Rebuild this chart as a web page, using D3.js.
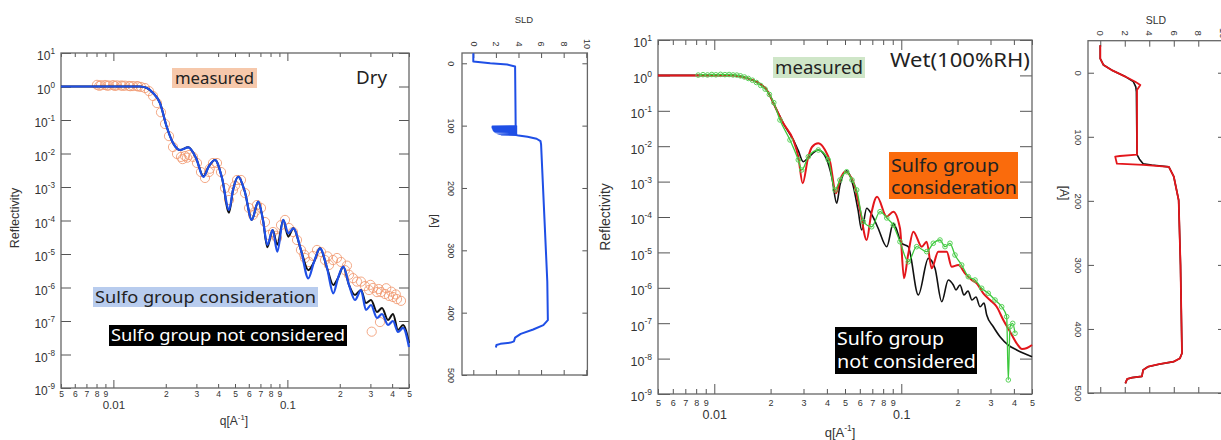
<!DOCTYPE html>
<html>
<head>
<meta charset="utf-8">
<script src="https://cdn.jsdelivr.net/npm/d3@7/dist/d3.min.js"></script>
<style>
  body { margin: 0; background: #fff; }
  svg { display: block; }
</style>
</head>
<body>
<div id="chart"></div>
<script>
const W = 1221, H = 440;

// ---- ticks ----
const qMinorTicks = [0.005, 0.006, 0.007, 0.008, 0.009, 0.02, 0.03, 0.04, 0.05, 0.06, 0.07, 0.08, 0.09, 0.2, 0.3, 0.4, 0.5];
const qMajorTicks = [0.01, 0.1];
const rTicks = [1e1, 1e0, 1e-1, 1e-2, 1e-3, 1e-4, 1e-5, 1e-6, 1e-7, 1e-8, 1e-9];
const sldTicks = [0, 2, 4, 6, 8, 10];
const depthTicks = [0, 100, 200, 300, 400, 500];

// ---- Dry reflectivity ----
const dryMeasQ = [0.00805, 0.00849, 0.00895, 0.00943, 0.00995, 0.01049, 0.01106, 0.01166, 0.01229, 0.01296, 0.01367, 0.01441, 0.0152, 0.01602, 0.0169, 0.01781, 0.01878, 0.0198, 0.02088, 0.02201, 0.02321, 0.02447, 0.0258, 0.0272, 0.02868, 0.03024, 0.03188, 0.03361, 0.03545, 0.03737, 0.0394, 0.04155, 0.0438, 0.0462, 0.0487, 0.05135, 0.05414, 0.05707, 0.0602, 0.06346, 0.0669, 0.07054, 0.07437, 0.0784, 0.0827, 0.0872, 0.0919, 0.0969, 0.1022, 0.1077, 0.1136, 0.1197, 0.1262, 0.1331, 0.1403, 0.148, 0.156, 0.1645, 0.1735, 0.1829, 0.1928, 0.2033, 0.2144, 0.226, 0.2383, 0.2512, 0.2649, 0.2793, 0.2945, 0.3105, 0.3274, 0.3452, 0.364, 0.3838, 0.4046, 0.4265, 0.4498,
  0.0083, 0.0092, 0.0102, 0.0113, 0.0125, 0.0139, 0.025, 0.0265, 0.0358, 0.05, 0.065, 0.086, 0.125, 0.17, 0.22, 0.3, 0.335, 0.37, 0.396, 0.42, 0.3052, 0.3405];
const dryMeasR = [1.12, 1.09, 1.11, 1.07, 1.10, 1.08, 1.07, 1.06, 1.04, 1.03, 1.03, 0.97, 0.90, 0.73, 0.52, 0.32, 0.17, 0.076, 0.033, 0.0156, 0.0097, 0.0079, 0.0084, 0.009, 0.0079, 0.0052, 0.0028, 0.00186, 0.0028, 0.0052, 0.0052, 0.0028, 9.3e-4, 4.1e-4, 8.1e-4, 1.62e-3, 1.62e-3, 6.6e-4, 2.36e-4, 1.46e-4, 2.9e-4, 2.36e-4, 9.0e-5, 3.69e-5, 4.54e-5, 3.0e-5, 7.3e-5, 1.04e-4, 5.97e-5, 4.54e-5, 2.62e-5, 1.32e-5, 7.6e-6, 5.77e-6, 8.7e-6, 1.32e-5, 1.15e-5, 6.6e-6, 4.7e-6, 6.6e-6, 7.6e-6, 5.8e-6, 3.3e-6, 2.4e-6, 1.9e-6, 1.5e-6, 1.5e-6, 1.1e-6, 8.4e-7, 9.7e-7, 7.3e-7, 7.3e-7, 6.4e-7, 5.6e-7, 5.2e-7, 4.5e-7, 4.0e-7,
  1.05, 1.06, 1.04, 1.05, 1.02, 1.0, 0.0068, 0.0075, 0.0035, 0.0011, 1.8e-4, 3.5e-5, 9.5e-6, 8.5e-6, 4.5e-6, 1.2e-6, 9.0e-7, 9.5e-7, 7.5e-7, 6.2e-7, 4.8e-8, 9.3e-8];

const dryConsQ = [0.005, 0.01422, 0.0156, 0.0169, 0.01853, 0.02025, 0.0221, 0.02415, 0.02695, 0.02985, 0.0329, 0.03545, 0.03837, 0.0421, 0.0462, 0.0487, 0.0522, 0.057, 0.0624, 0.068, 0.0724, 0.0767, 0.0823, 0.0875, 0.0947, 0.1012, 0.1082, 0.1197, 0.1319, 0.1422, 0.154, 0.169, 0.1836, 0.1954, 0.2097, 0.226, 0.2448, 0.2649, 0.283, 0.3024, 0.3274, 0.3498, 0.3787, 0.4045, 0.4323, 0.462, 0.5];
const dryConsR = [1, 1, 0.9, 0.64, 0.32, 0.063, 0.02, 0.0127, 0.0153, 0.00734, 0.002, 0.00424, 0.0064, 0.00186, 2.06e-4, 8.1e-4, 2.03e-3, 7.1e-4, 1.04e-4, 3.64e-4, 1.04e-4, 1.86e-5, 5.2e-5, 1.17e-5, 1.04e-4, 4.15e-5, 5.85e-5, 1.31e-5, 1.88e-6, 5.77e-6, 1.48e-5, 3.82e-6, 6.7e-7, 1.92e-6, 4.18e-6, 1.19e-6, 4.24e-7, 8.4e-7, 2.13e-7, 3.0e-7, 1.23e-7, 1.62e-7, 7.6e-8, 1.0e-7, 4.7e-8, 6.2e-8, 1.67e-8];

const dryNotQ = dryConsQ;
const dryNotR = [1, 1, 0.9, 0.64, 0.32, 0.063, 0.02, 0.0127, 0.0153, 0.00734, 0.0021, 0.00424, 0.0064, 0.00186, 1.7e-4, 8.1e-4, 2.03e-3, 7.1e-4, 1.04e-4, 3.64e-4, 1.04e-4, 1.6e-5, 5.2e-5, 1.9e-5, 1.04e-4, 3.3e-5, 5.85e-5, 1.31e-5, 3.3e-6, 5.77e-6, 1.48e-5, 3.82e-6, 1.19e-6, 1.92e-6, 4.18e-6, 1.19e-6, 6.0e-7, 8.4e-7, 3.44e-7, 4.24e-7, 1.86e-7, 2.44e-7, 1.07e-7, 1.62e-7, 5.4e-8, 7.6e-8, 2.2e-8];

// ---- Wet (100%RH) reflectivity ----
const wetMeasQ = [0.0082, 0.0087, 0.0092, 0.0097, 0.0102, 0.0108, 0.0114, 0.012, 0.0126, 0.0132, 0.0138, 0.0145, 0.0152, 0.016, 0.0168, 0.0177, 0.0187, 0.0197, 0.0208, 0.02245, 0.0254, 0.02813, 0.02934, 0.03183, 0.036, 0.04071, 0.0442, 0.047, 0.05105, 0.0545, 0.05773, 0.06266, 0.06945, 0.07695, 0.0836, 0.0906, 0.0984, 0.109, 0.1208, 0.1367, 0.1483, 0.161, 0.1713, 0.1821, 0.1937, 0.2104, 0.2282, 0.2479, 0.2691, 0.2919, 0.3171, 0.3443, 0.366, 0.3735, 0.3815, 0.3943, 0.4056];
const wetMeasR = [1.02, 1.05, 1.03, 1.06, 1.04, 1.07, 1.05, 1.06, 1.03, 1.02, 0.97, 0.9, 0.82, 0.73, 0.63, 0.52, 0.41, 0.29, 0.17, 0.055, 0.015, 0.0041, 0.00213, 0.00505, 0.0078, 0.0041, 5.8e-4, 1.11e-3, 1.9e-3, 1.11e-3, 5.8e-4, 7.4e-5, 5.3e-5, 1.41e-4, 9.4e-5, 5.9e-5, 2.0e-5, 5.45e-6, 1.45e-5, 1.05e-5, 1.81e-5, 2.24e-5, 1.45e-5, 1.81e-5, 8.45e-6, 4.4e-6, 2.06e-6, 1.66e-6, 9.7e-7, 7.0e-7, 4.52e-7, 2.92e-7, 1.53e-7, 2.5e-9, 8.0e-8, 9.9e-8, 5.2e-8];

const wetConsQ = [0.005, 0.01259, 0.0149, 0.01686, 0.01907, 0.02157, 0.02339, 0.02645, 0.02813, 0.0297, 0.0317, 0.0333, 0.036, 0.0391, 0.0416, 0.04475, 0.047, 0.05, 0.0554, 0.06015, 0.0653, 0.0689, 0.0742, 0.0836, 0.0906, 0.0984, 0.1034, 0.1087, 0.116, 0.1286, 0.1367, 0.1454, 0.1577, 0.175, 0.186, 0.2018, 0.2191, 0.238, 0.2531, 0.2745, 0.2981, 0.3237, 0.3512, 0.3815, 0.4141, 0.4422, 0.4701, 0.5];
const wetConsR = [1, 1, 0.845, 0.65, 0.387, 0.105, 0.0443, 0.015, 0.00505, 8.95e-4, 0.00465, 0.0095, 0.0121, 0.0078, 0.00365, 4.67e-4, 1.11e-3, 1.9e-3, 9.75e-4, 1.58e-4, 2.24e-5, 1.14e-4, 3.74e-4, 1.02e-4, 1.41e-4, 4.8e-5, 1.85e-6, 8.45e-6, 3.85e-5, 1.45e-5, 2.0e-5, 3.56e-6, 1.05e-5, 1.05e-5, 3.94e-6, 4.4e-6, 2.57e-6, 1.66e-6, 1.34e-6, 7.0e-7, 4.52e-7, 2.92e-7, 1.23e-7, 5.75e-8, 2.7e-8, 1.87e-8, 1.99e-8, 2.42e-8];

const wetNotQ = [0.005, 0.01259, 0.0149, 0.01686, 0.01907, 0.02157, 0.02339, 0.02645, 0.02813, 0.0299, 0.0317, 0.036, 0.03956, 0.0426, 0.04515, 0.047, 0.05105, 0.05516, 0.0587, 0.06143, 0.0653, 0.0697, 0.0751, 0.0836, 0.0906, 0.1005, 0.109, 0.1233, 0.1395, 0.1514, 0.1645, 0.1784, 0.1898, 0.1962, 0.206, 0.2164, 0.2274, 0.2388, 0.2509, 0.2636, 0.277, 0.2863, 0.3105, 0.3372, 0.3735, 0.4141, 0.5];
const wetNotR = [1, 1, 0.845, 0.65, 0.387, 0.105, 0.0443, 0.015, 0.0075, 0.00365, 0.00465, 0.0078, 0.00465, 0.00126, 2.44e-4, 8.0e-4, 2.03e-3, 8.0e-4, 1.58e-4, 4.3e-5, 1.76e-4, 1.14e-4, 4.9e-5, 1.45e-5, 6.6e-5, 1.81e-5, 1.45e-5, 6.3e-7, 6.8e-6, 3.56e-6, 4.05e-7, 1.66e-6, 1.2e-6, 8.7e-7, 1.2e-6, 6.3e-7, 8.1e-7, 4.52e-7, 5.5e-7, 2.92e-7, 3.72e-7, 1.7e-7, 7.96e-8, 4.16e-8, 2.42e-8, 1.75e-8, 1.13e-8];

// ---- SLD profiles ----
const dryDepth = [-16, -3, 0, 2, 5, 100, 101, 101.5, 102, 102.5, 103, 103.5, 104, 104.5, 105, 105.5, 106, 106.5, 107, 107.5, 108, 108.5, 109, 109.5, 110, 110.5, 111, 111.5, 112, 112.5, 113, 113.5, 114, 114.5, 115, 116, 118, 121, 125, 130, 250, 350, 412, 420, 427, 434, 440, 446, 448, 450, 452, 456];
const drySLD = [0, 0, 1.5, 3.0, 3.7, 3.75, 3.8, 1.7, 3.8, 1.7, 3.8, 1.7, 3.8, 1.75, 3.8, 1.75, 3.8, 1.8, 3.8, 1.8, 3.8, 1.85, 3.8, 1.9, 3.8, 2.0, 3.8, 2.1, 3.8, 2.2, 3.8, 2.3, 3.8, 2.5, 3.8, 4.0, 4.8, 5.6, 5.95, 6.0, 6.3, 6.55, 6.6, 6.2, 5.3, 4.2, 3.7, 3.6, 3.3, 2.4, 2.05, 2.0];

const wetDepth = [-43, -22, -12, -4, 6, 14, 19, 27, 128, 130, 131, 142, 144, 147, 162, 199, 300, 438, 446, 451, 455, 459, 464, 474, 476, 478, 485];
const wetSLDcons = [0, 0, 0.27, 0.95, 2.04, 2.86, 3.27, 3.0, 3.0, 1.6, 1.22, 1.36, 3.5, 5.6, 6.0, 6.4, 6.55, 6.67, 6.5, 6.0, 4.8, 3.9, 3.5, 3.4, 2.6, 2.2, 2.05];
const wetNotDepth = [-43, -22, -12, -4, 6, 14, 22, 30, 128, 135, 142, 144, 147, 162, 199, 300, 438, 446, 451, 455, 459, 464, 474, 476, 478, 485];
const wetSLDnot = [0, 0, 0.27, 0.95, 2.04, 2.7, 2.9, 2.95, 3.0, 3.2, 3.5, 4.2, 5.6, 6.0, 6.4, 6.55, 6.67, 6.5, 6.0, 4.8, 3.9, 3.5, 3.4, 2.6, 2.2, 2.05];

const svg = d3.select("#chart").append("svg")
  .attr("width", W).attr("height", H)
  .style("font-family", '"Liberation Sans", Arial, sans-serif');

function styleAxis(g) {
  g.select(".domain").remove();
  g.selectAll(".tick line").attr("stroke", "#555").attr("stroke-width", 1);
  g.selectAll(".tick text").attr("fill", "#333").attr("font-family", '"Liberation Sans", Arial, sans-serif');
}

function reflPanel(p, series) {
  const x = d3.scaleLog().domain([0.005, 0.5]).range([p.left, p.right]);
  const y = d3.scaleLog().domain([1e-9, 10]).range([p.bottom, p.top]);
  const g = svg.append("g");

  // bottom axis: minor digits, then decade labels
  g.append("g").attr("transform", `translate(0,${p.bottom})`)
    .call(d3.axisBottom(x).tickValues(qMinorTicks).tickSize(-p.minorLen).tickPadding(p.minorPad)
      .tickFormat(d => Math.round(d / Math.pow(10, Math.floor(Math.log10(d) + 1e-9)))))
    .call(styleAxis)
    .call(a => a.selectAll("text").attr("font-size", p.minorFont));
  g.append("g").attr("transform", `translate(0,${p.bottom})`)
    .call(d3.axisBottom(x).tickValues(qMajorTicks).tickSize(-p.majorLen).tickPadding(p.majorPad).tickFormat(d => d))
    .call(styleAxis)
    .call(a => a.selectAll("text").attr("font-size", p.majorFont));

  // top axis, ticks only
  g.append("g").attr("transform", `translate(0,${p.top})`)
    .call(d3.axisTop(x).tickValues(qMinorTicks).tickSize(-p.minorLen).tickFormat(""))
    .call(styleAxis);
  g.append("g").attr("transform", `translate(0,${p.top})`)
    .call(d3.axisTop(x).tickValues(qMajorTicks).tickSize(-p.majorLen).tickFormat(""))
    .call(styleAxis);

  // left axis with 10^n labels
  g.append("g").attr("transform", `translate(${p.left},0)`)
    .call(d3.axisLeft(y).tickValues(rTicks).tickSize(-p.yLen).tickPadding(p.yPad).tickFormat(""))
    .call(styleAxis)
    .call(a => a.selectAll(".tick text").attr("font-size", p.yFont).attr("dy", "0.55em")
      .each(function (d) {
        const t = d3.select(this);
        t.append("tspan").text("10");
        t.append("tspan").attr("dy", -p.yFont * 0.5).attr("font-size", p.yFont * 0.68)
          .text(Math.round(Math.log10(d)));
      }));
  g.append("g").attr("transform", `translate(${p.right},0)`)
    .call(d3.axisRight(y).tickValues(rTicks).tickSize(-p.yLen).tickFormat(""))
    .call(styleAxis);

  g.append("rect").attr("x", p.left).attr("y", p.top)
    .attr("width", p.right - p.left).attr("height", p.bottom - p.top)
    .attr("fill", "none").attr("stroke", "#666").attr("stroke-width", 1.3);

  g.append("text").attr("transform", `translate(${p.ylabX},${p.ylabY}) rotate(-90)`)
    .attr("text-anchor", "middle").attr("font-size", p.ylabFont).attr("fill", "#333").text("Reflectivity");

  const xl = g.append("text").attr("x", p.xlabX).attr("y", p.xlabY).attr("text-anchor", "middle")
    .attr("font-size", p.xlabFont).attr("fill", "#333");
  xl.append("tspan").text("q[A");
  xl.append("tspan").attr("dy", -p.xlabFont * 0.45).attr("font-size", p.xlabFont * 0.65).text("-1");
  xl.append("tspan").attr("dy", p.xlabFont * 0.45).text("]");

  const line = d3.line().x(d => x(d[0])).y(d => y(d[1])).curve(d3.curveMonotoneX);
  series.forEach(s => {
    const pts = d3.zip(s.q, s.r);
    if (s.width) {
      g.append("path").datum(pts).attr("d", line).attr("fill", "none")
        .attr("stroke", s.color).attr("stroke-width", s.width).attr("stroke-linejoin", "round");
    }
    if (s.radius) {
      g.append("g").selectAll("circle").data(pts).join("circle")
        .attr("cx", d => x(d[0])).attr("cy", d => y(d[1])).attr("r", s.radius)
        .attr("fill", "none").attr("stroke", s.markerColor).attr("stroke-width", 1)
        .attr("opacity", s.markerOpacity || 1);
    }
  });
}

function sldPanel(p, series) {
  const x = d3.scaleLinear().domain([-1, 10.1]).range([p.left, p.right]);
  const y = d3.scaleLinear().domain([p.dMin, 500]).range([p.top, p.bottom]);
  const g = svg.append("g");

  g.append("g").attr("transform", `translate(0,${p.top})`)
    .call(d3.axisTop(x).tickValues(sldTicks).tickSize(-p.tick).tickFormat(d => d))
    .call(styleAxis)
    .call(a => a.selectAll(".tick text").attr("font-size", p.font).attr("text-anchor", "middle")
      .attr("x", 0).attr("y", -p.topLabOff).attr("dy", "0.35em")
      .attr("transform", `rotate(90,0,${-p.topLabOff})`));
  g.append("g").attr("transform", `translate(0,${p.bottom})`)
    .call(d3.axisBottom(x).tickValues(sldTicks).tickSize(-p.tick).tickFormat(""))
    .call(styleAxis);
  g.append("g").attr("transform", `translate(${p.left},0)`)
    .call(d3.axisLeft(y).tickValues(depthTicks).tickSize(-p.tick).tickFormat(d => d))
    .call(styleAxis)
    .call(a => a.selectAll(".tick text").attr("font-size", p.font).attr("text-anchor", "middle")
      .attr("x", -p.leftLabOff).attr("y", 0).attr("dy", "0.35em")
      .attr("transform", `rotate(90,${-p.leftLabOff},0)`));
  g.append("g").attr("transform", `translate(${p.right},0)`)
    .call(d3.axisRight(y).tickValues(depthTicks).tickSize(-p.tick).tickFormat(""))
    .call(styleAxis);

  g.append("rect").attr("x", p.left).attr("y", p.top)
    .attr("width", p.right - p.left).attr("height", p.bottom - p.top)
    .attr("fill", "none").attr("stroke", "#666").attr("stroke-width", 1.3);

  g.append("text").attr("x", p.sldX).attr("y", p.sldY).attr("text-anchor", "middle")
    .attr("font-size", p.labFont).attr("fill", "#333").text("SLD");
  g.append("text").attr("transform", `translate(${p.aX},${p.aY}) rotate(90)`)
    .attr("text-anchor", "middle").attr("dy", "0.35em")
    .attr("font-size", p.labFont + 1.5).attr("fill", "#333").text("[A]");

  const line = d3.line().x(d => x(d[1])).y(d => y(d[0]));
  series.forEach(s => {
    g.append("path").datum(d3.zip(s.depth, s.sld)).attr("d", line).attr("fill", "none")
      .attr("stroke", s.color).attr("stroke-width", s.width).attr("stroke-linejoin", "round");
  });
}

function note(n) {
  const g = svg.append("g").attr("font-family", '"Noto Sans", "DejaVu Sans", sans-serif');
  if (n.fill) g.append("rect").attr("x", n.x).attr("y", n.y).attr("width", n.w).attr("height", n.h).attr("fill", n.fill);
  n.lines.forEach((t, i) => {
    const el = g.append("text").attr("x", n.tx).attr("y", n.ty[i]).attr("font-size", n.size)
      .attr("fill", n.color).text(t);
    if (n.len) el.attr("textLength", n.len[i]).attr("lengthAdjust", "spacingAndGlyphs");
  });
}

// ---- Dry panel ----
reflPanel({
  left: 61, right: 409, top: 53, bottom: 388,
  minorLen: 4, majorLen: 8, minorPad: 2.6, majorPad: 13, minorFont: 8.5, majorFont: 11.5,
  yLen: 10, yPad: 6, yFont: 12,
  ylabX: 19, ylabY: 218, ylabFont: 12.5, xlabX: 234, xlabY: 425, xlabFont: 12
}, [
  { q: dryMeasQ, r: dryMeasR, radius: 4.6, markerColor: "#f19a72", markerOpacity: 0.85 },
  { q: dryNotQ, r: dryNotR, color: "#111", width: 2 },
  { q: dryConsQ, r: dryConsR, color: "#1f4fe6", width: 2.2 }
]);

sldPanel({
  left: 462, right: 587.4, top: 53, bottom: 375, dMin: -16.5,
  tick: 5, font: 9, topLabOff: 9, leftLabOff: 11,
  sldX: 524, sldY: 23, labFont: 9.5, aX: 435, aY: 221
}, [
  { depth: dryDepth, sld: drySLD, color: "#1f4fe6", width: 2 }
]);

// ---- Wet panel ----
reflPanel({
  left: 658, right: 1032, top: 40, bottom: 394,
  minorLen: 5, majorLen: 10, minorPad: 5.5, majorPad: 16.5, minorFont: 9, majorFont: 12.5,
  yLen: 12, yPad: 6, yFont: 12.5,
  ylabX: 610, ylabY: 217, ylabFont: 14, xlabX: 840, xlabY: 437, xlabFont: 13
}, [
  { q: wetNotQ, r: wetNotR, color: "#111", width: 1.6 },
  { q: wetConsQ, r: wetConsR, color: "#e3161b", width: 2 },
  { q: wetMeasQ, r: wetMeasR, color: "#3cc83c", width: 1.3, radius: 2.3, markerColor: "#5ad35a" }
]);

sldPanel({
  left: 1088, right: 1224, top: 40.7, bottom: 393, dMin: -50,
  tick: 6, font: 9.5, topLabOff: 7.5, leftLabOff: 10,
  sldX: 1156, sldY: 24, labFont: 10.5, aX: 1064, aY: 193
}, [
  { depth: wetNotDepth, sld: wetSLDnot, color: "#111", width: 1.6 },
  { depth: wetDepth, sld: wetSLDcons, color: "#e3161b", width: 1.8 }
]);

// ---- annotations ----
note({ x: 172, y: 68, w: 85, h: 20, fill: "#f6c8ab", tx: 175, ty: [84], size: 17, color: "#222", lines: ["measured"], len: [79] });
note({ tx: 356, ty: [84], size: 18, color: "#222", lines: ["Dry"], len: [31] });
note({ x: 93, y: 287, w: 225, h: 20, fill: "#b8ccee", tx: 95, ty: [303], size: 17, color: "#222", lines: ["Sulfo group consideration"], len: [221] });
note({ x: 109, y: 325, w: 238, h: 21, fill: "#000", tx: 111, ty: [341], size: 17, color: "#fff", lines: ["Sulfo group not considered"], len: [234] });

note({ x: 773, y: 57, w: 92, h: 21, fill: "#cfe6c8", tx: 775, ty: [74], size: 18, color: "#222", lines: ["measured"], len: [88] });
note({ tx: 890, ty: [67], size: 19, color: "#222", lines: ["Wet(100%RH)"], len: [140] });
note({ x: 889, y: 152, w: 129, h: 47, fill: "#fa6b0c", tx: 891, ty: [172, 194], size: 18, color: "#222", lines: ["Sulfo group", "consideration"], len: [108, 126] });
note({ x: 835, y: 327, w: 142, h: 47, fill: "#000", tx: 837, ty: [345, 368], size: 18, color: "#fff", lines: ["Sulfo group", "not considered"], len: [107, 139] });
</script>
</body>
</html>
